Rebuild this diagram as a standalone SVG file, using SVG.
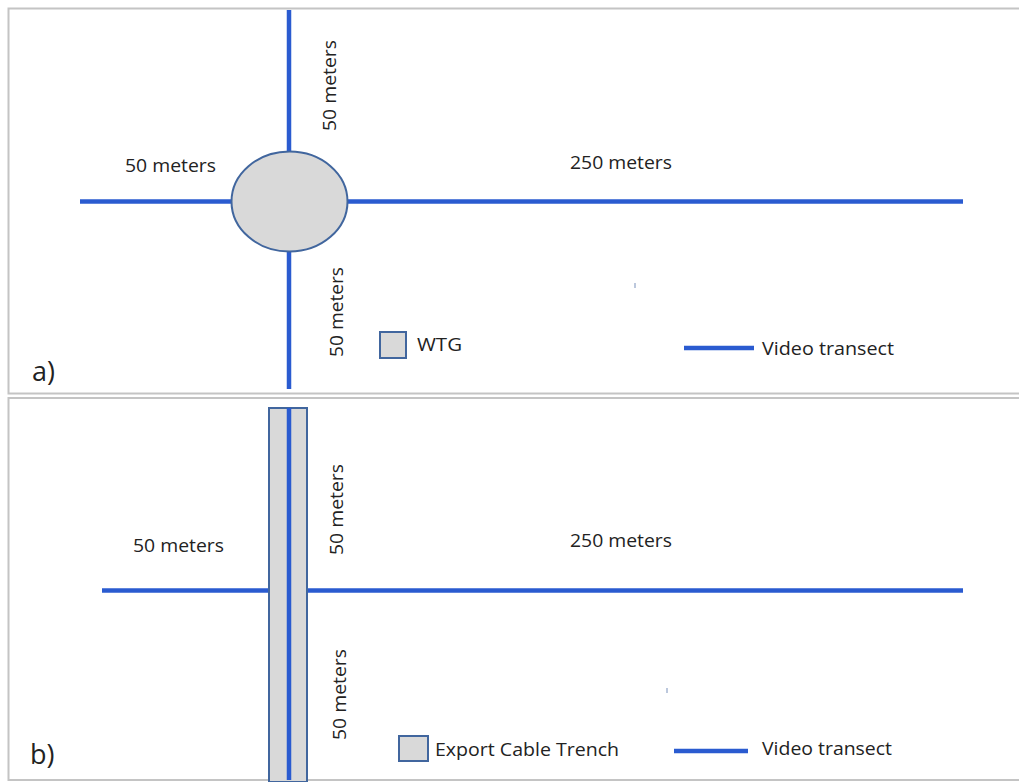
<svg xmlns="http://www.w3.org/2000/svg" width="1019" height="782" viewBox="0 0 1019 782">
<style>
.panel{fill:#ffffff;stroke:#c4c4c4;stroke-width:2}
.tr{stroke:#2a5bd0;stroke-width:4.5;fill:none}
.shape{fill:#d9d9d9;stroke:#41669e;stroke-width:2}
.t{font-family:"Open Sans","Noto Sans",sans-serif;font-size:18px;fill:#222222}
.lbl{font-family:"Open Sans","Noto Sans",sans-serif;font-size:27px;fill:#222222}
.tick{stroke:#8fa3c6;stroke-width:1.2}
</style>
<rect width="1019" height="782" fill="#ffffff"/>
<g id="panel-a">
<rect class="panel" x="8.5" y="8.5" width="1030" height="385"/>
</g>
<g id="panel-b">
<rect class="panel" x="8.5" y="398" width="1030" height="382"/>
</g>
<g id="connectors">
<line class="tr" x1="289" y1="10" x2="289" y2="389"/>
<line class="tr" x1="80" y1="201.5" x2="963" y2="201.5"/>
<line class="tr" x1="289" y1="408" x2="289" y2="780"/>
<line class="tr" x1="102" y1="590.5" x2="963" y2="590.5"/>
</g>
<g id="wtg">
<ellipse class="shape" cx="289.5" cy="201.5" rx="58" ry="50"/>
</g>
<g id="trench">
<rect class="shape" x="269" y="408" width="38" height="374"/>
<line class="tr" x1="289" y1="408" x2="289" y2="780"/>
</g>
<g id="labels-a">
<text class="t" x="125" y="172" textLength="91" lengthAdjust="spacingAndGlyphs">50 meters</text>
<text class="t" transform="translate(336,131) rotate(-90)" textLength="91" lengthAdjust="spacingAndGlyphs">50 meters</text>
<text class="t" transform="translate(343,357) rotate(-90)" textLength="90" lengthAdjust="spacingAndGlyphs">50 meters</text>
<text class="t" x="570" y="169" textLength="102" lengthAdjust="spacingAndGlyphs">250 meters</text>
<text class="lbl" x="32" y="381">a)</text>
<line class="tick" x1="635" y1="283" x2="635" y2="288"/>
</g>
<g id="legend-a">
<rect class="shape" x="380" y="332" width="26" height="26"/>
<text class="t" x="417" y="351" textLength="45" lengthAdjust="spacingAndGlyphs">WTG</text>
<line class="tr" x1="684" y1="348" x2="754" y2="348"/>
<text class="t" x="762" y="355" textLength="132" lengthAdjust="spacingAndGlyphs">Video transect</text>
</g>
<g id="labels-b">
<text class="t" x="133" y="552" textLength="91" lengthAdjust="spacingAndGlyphs">50 meters</text>
<text class="t" transform="translate(343,555) rotate(-90)" textLength="91" lengthAdjust="spacingAndGlyphs">50 meters</text>
<text class="t" transform="translate(346,740) rotate(-90)" textLength="91" lengthAdjust="spacingAndGlyphs">50 meters</text>
<text class="t" x="570" y="547" textLength="102" lengthAdjust="spacingAndGlyphs">250 meters</text>
<text class="lbl" x="30" y="764">b)</text>
<line class="tick" x1="667" y1="688" x2="667" y2="693"/>
</g>
<g id="legend-b">
<rect class="shape" x="399" y="736" width="29" height="25"/>
<text class="t" x="435" y="756" textLength="184" lengthAdjust="spacingAndGlyphs">Export Cable Trench</text>
<line class="tr" x1="674" y1="751" x2="748" y2="751"/>
<text class="t" x="762" y="755" textLength="130" lengthAdjust="spacingAndGlyphs">Video transect</text>
</g>
</svg>
